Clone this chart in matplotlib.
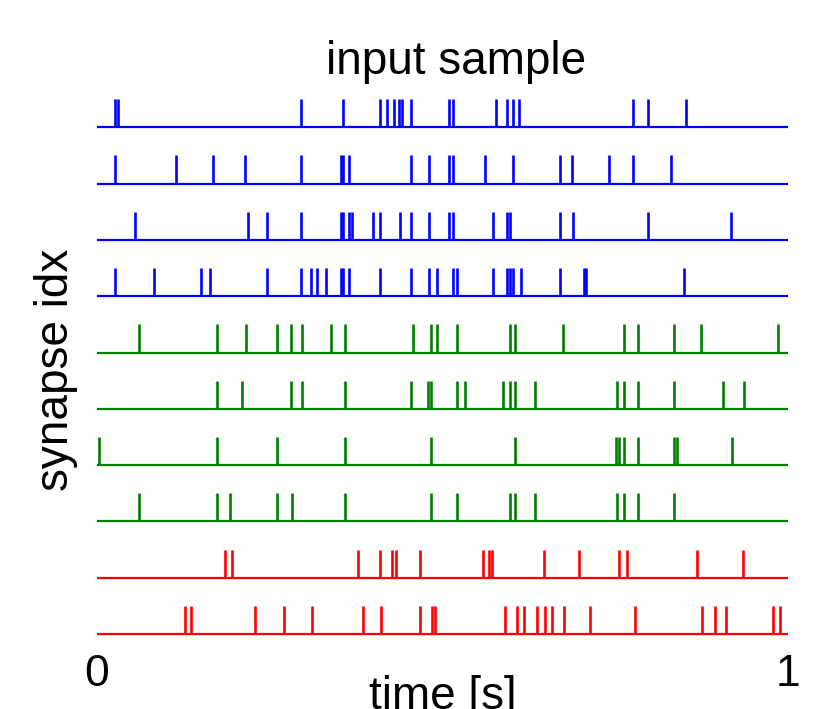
import matplotlib
matplotlib.use('Agg')
import matplotlib.pyplot as plt

plt.rcParams['font.family'] = ['Liberation Sans', 'DejaVu Sans']

# spike times per synapse, top row first
blue_1 = [0.026, 0.030, 0.295, 0.356, 0.409, 0.419, 0.430, 0.437, 0.441, 0.455,
          0.510, 0.515, 0.577, 0.594, 0.602, 0.610, 0.776, 0.798, 0.853]
blue_2 = [0.026, 0.114, 0.168, 0.214, 0.295, 0.353, 0.356, 0.365, 0.455, 0.480,
          0.510, 0.515, 0.562, 0.602, 0.670, 0.688, 0.741, 0.776, 0.830]
blue_3 = [0.055, 0.218, 0.246, 0.295, 0.353, 0.356, 0.365, 0.369, 0.400, 0.409,
          0.438, 0.455, 0.480, 0.510, 0.515, 0.573, 0.594, 0.598, 0.670, 0.689,
          0.798, 0.918]
blue_4 = [0.026, 0.082, 0.151, 0.164, 0.246, 0.295, 0.309, 0.319, 0.331, 0.353,
          0.356, 0.365, 0.409, 0.455, 0.480, 0.492, 0.515, 0.521, 0.573, 0.594,
          0.598, 0.602, 0.614, 0.670, 0.705, 0.708, 0.850]
green_1 = [0.061, 0.173, 0.216, 0.261, 0.281, 0.296, 0.339, 0.359, 0.457, 0.484,
           0.492, 0.521, 0.597, 0.605, 0.675, 0.763, 0.783, 0.835, 0.874, 0.986]
green_2 = [0.173, 0.210, 0.281, 0.296, 0.359, 0.454, 0.479, 0.484, 0.521, 0.532,
           0.587, 0.597, 0.605, 0.634, 0.752, 0.763, 0.783, 0.835, 0.906, 0.937]
green_3 = [0.003, 0.173, 0.261, 0.359, 0.484, 0.605, 0.751, 0.755, 0.763, 0.783,
           0.835, 0.840, 0.919]
green_4 = [0.061, 0.173, 0.193, 0.261, 0.282, 0.359, 0.484, 0.521, 0.597, 0.605,
           0.634, 0.752, 0.763, 0.783, 0.835]
red_1 = [0.185, 0.196, 0.377, 0.410, 0.427, 0.433, 0.468, 0.558, 0.567, 0.571,
         0.647, 0.698, 0.756, 0.767, 0.868, 0.935]
red_2 = [0.127, 0.136, 0.228, 0.271, 0.311, 0.385, 0.411, 0.468, 0.485, 0.489,
         0.590, 0.608, 0.618, 0.637, 0.649, 0.658, 0.676, 0.714, 0.778, 0.876,
         0.895, 0.910, 0.979, 0.989]

trains = [blue_1, blue_2, blue_3, blue_4, green_1, green_2, green_3, green_4, red_1, red_2]
colors = ['blue'] * 4 + ['green'] * 4 + ['red'] * 2

fig = plt.figure(figsize=(8.34, 7.09), dpi=100)
ax = fig.add_axes([97 / 834, (709 - 645.3) / 709, 691 / 834, 551.8 / 709])

n = len(trains)
for i, (spikes, c) in enumerate(zip(trains, colors)):
    base = n - 1 - i
    ax.hlines(base, 0, 1, color=c, lw=1.6, clip_on=False)
    ax.vlines(spikes, base, base + 0.5, color=c, lw=1.9, clip_on=False)

ax.set_xlim(0, 1)
ax.set_ylim(-0.2, 9.6)
for s in ax.spines.values():
    s.set_visible(False)
ax.set_yticks([])
ax.set_xticks([0, 1])
ax.set_xticklabels(['0', '1'])
ax.tick_params(axis='x', length=0, labelsize=32, pad=6)

ax.set_title('input sample', fontsize=33, x=0.52, pad=14)
ax.set_xlabel('time [s]', fontsize=33, labelpad=-14)
ax.set_ylabel('synapse idx', fontsize=33, labelpad=14)

fig.savefig('out.png', dpi=100)
